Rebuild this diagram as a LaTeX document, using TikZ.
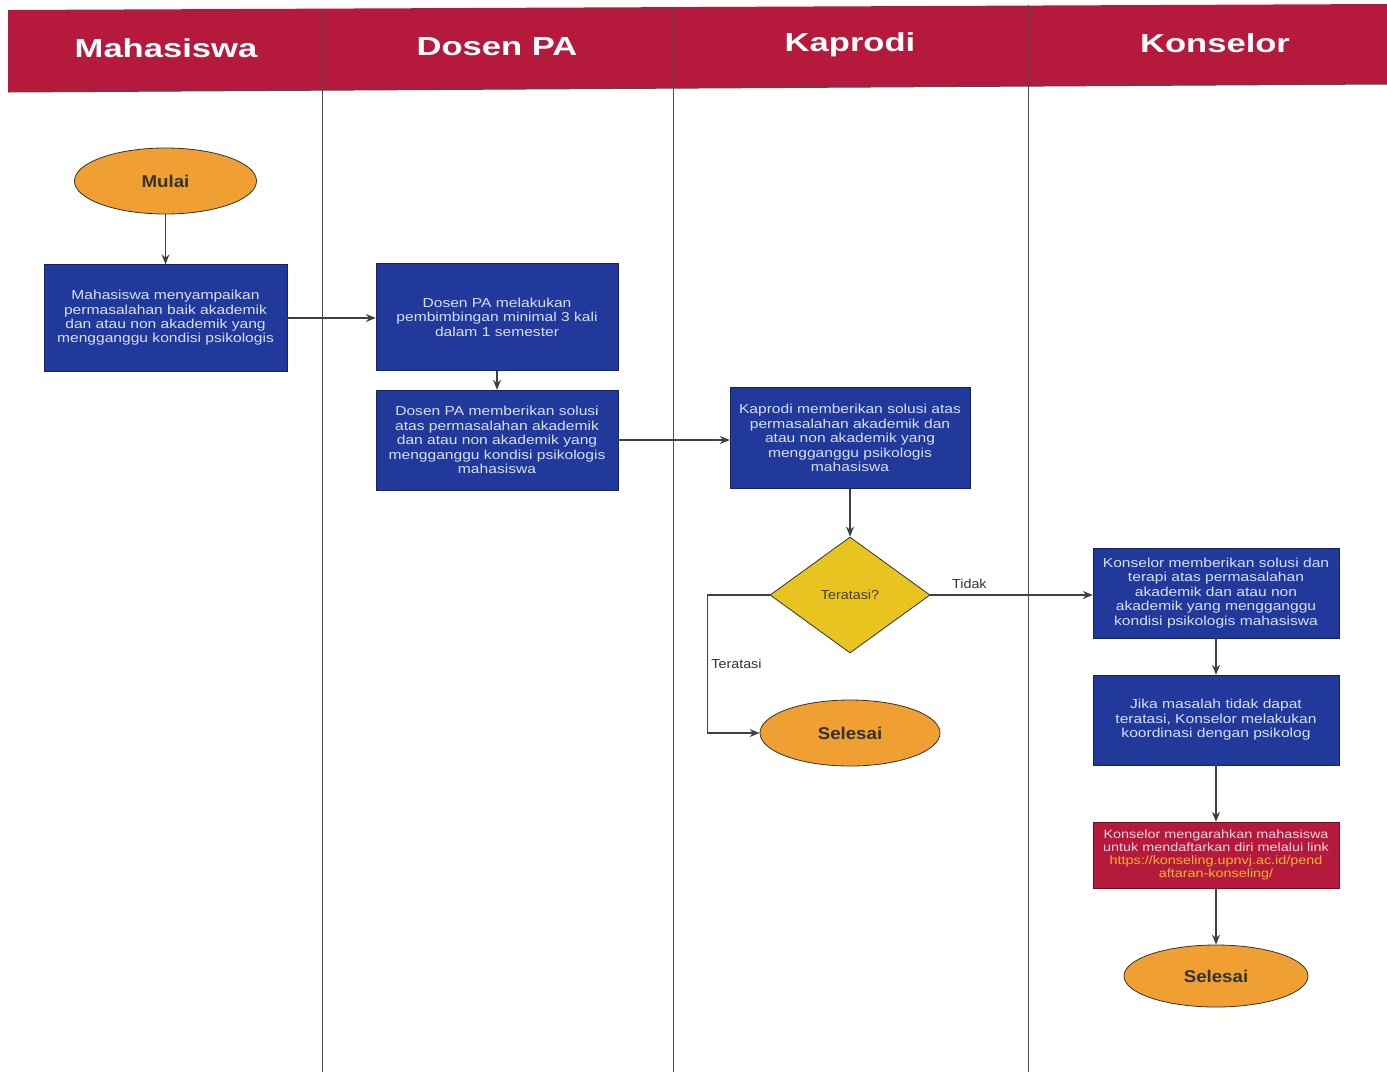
\documentclass[tikz,border=0pt]{standalone}
\usepackage{fontspec}
\setmainfont{Liberation Sans}
\newfontfamily\headfont[FakeStretch=1.33]{Liberation Sans}
\newfontfamily\boxfont[FakeStretch=1.2]{Liberation Sans}
\newfontfamily\lblfont[FakeStretch=1.1]{Liberation Sans}
\usetikzlibrary{shapes.geometric,arrows.meta}

\newlength{\du}
\setlength{\du}{1pt}

\definecolor{lanered}{RGB}{181,26,60}
\definecolor{boxblue}{RGB}{33,57,155}
\definecolor{boxtext}{RGB}{214,224,246}
\definecolor{startorange}{RGB}{240,160,50}
\definecolor{decideyellow}{RGB}{232,196,32}
\definecolor{linkyellow}{RGB}{242,180,50}
\definecolor{redtext}{RGB}{246,214,220}

\tikzset{
  lanehead/.style={text=white, font=\headfont\bfseries\fontsize{26}{28}\selectfont},
  procbox/.style={draw=boxblue!60!black, fill=boxblue, text=boxtext, align=center,
    minimum width=242\du, inner sep=0pt, font=\boxfont\fontsize{13}{14.4}\selectfont},
  linkbox/.style={procbox, draw=lanered!60!black, fill=lanered, text=redtext,
    font=\boxfont\fontsize{12}{13}\selectfont},
  startend/.style={ellipse, draw=black!80, line width=0.8pt, fill=startorange, text=black!80, inner sep=0pt,
    font=\lblfont\bfseries\fontsize{17}{19}\selectfont},
  decide/.style={diamond, draw=black!80, line width=0.8pt, fill=decideyellow, text=black!70!olive, inner sep=0pt,
    minimum width=160\du, minimum height=116\du, font=\lblfont\fontsize{13}{15}\selectfont},
  flowarrow/.style={draw=black!75, line width=1.1pt, -{Stealth[length=10pt,width=8pt]}},
  edgelabel/.style={text=black!80, font=\lblfont\fontsize{13}{15}\selectfont}
}

\begin{document}
\begin{tikzpicture}
\pgftransformxscale{1.000000}
\pgftransformyscale{-1.000000}
\useasboundingbox (0\du,0\du) rectangle (1387\du,1072\du);

% lanes
\fill[lanered] (8\du,10\du)--(1387\du,4\du)--(1387\du,84\du)--(8\du,92\du)--cycle;
\draw[black!70, line width=1pt] (8\du,92\du)--(1387\du,84\du);
\draw[black!70, line width=0.8pt] (322\du,9\du)--(322\du,1072\du);
\draw[black!70, line width=0.8pt] (673\du,7\du)--(673\du,1072\du);
\draw[black!70, line width=0.8pt] (1028\du,5\du)--(1028\du,1072\du);
\node[lanehead] (hmhs) at (166\du,48\du){Mahasiswa};
\node[lanehead] (hdosen) at (497\du,47\du){Dosen PA};
\node[lanehead] (hkaprodi) at (850\du,45\du){Kaprodi};
\node[lanehead] (hkonselor) at (1215\du,43\du){Konselor};

% Mahasiswa
\node[startend, minimum width=182\du, minimum height=66\du] (mulai) at (165.5\du,181\du){Mulai};
\node[procbox, minimum width=243\du, minimum height=107\du] (lapor) at (165.5\du,318\du){Mahasiswa menyampaikan\\permasalahan baik akademik\\dan atau non akademik yang\\mengganggu kondisi psikologis};

% Dosen PA
\node[procbox, minimum height=107\du] (bimbing) at (497\du,317\du){Dosen PA melakukan\\pembimbingan minimal 3 kali\\dalam 1 semester};
\node[procbox, minimum height=100\du] (solusipa) at (497\du,440\du){Dosen PA memberikan solusi\\atas permasalahan akademik\\dan atau non akademik yang\\mengganggu kondisi psikologis\\mahasiswa};

% Kaprodi
\node[procbox, minimum width=240\du, minimum height=101\du] (solusikp) at (850\du,438\du){Kaprodi memberikan solusi atas\\permasalahan akademik dan\\atau non akademik yang\\mengganggu psikologis\\mahasiswa};
\node[decide] (cek) at (850\du,595\du){Teratasi?};
\node[startend, minimum width=180\du, minimum height=66\du] (selesaikp) at (850\du,733\du){Selesai};

% Konselor
\node[procbox, minimum width=246\du, minimum height=90\du] (terapi) at (1216\du,593\du){Konselor memberikan solusi dan\\terapi atas permasalahan\\akademik dan atau non\\akademik yang mengganggu\\kondisi psikologis mahasiswa};
\node[procbox, minimum width=246\du, minimum height=90\du] (psikolog) at (1216\du,720\du){Jika masalah tidak dapat\\teratasi, Konselor melakukan\\koordinasi dengan psikolog};
\node[linkbox, minimum width=246\du, minimum height=66\du] (daftar) at (1216\du,855\du){Konselor mengarahkan mahasiswa\\untuk mendaftarkan diri melalui link\\{\color{linkyellow}https://konseling.upnvj.ac.id/pend}\\{\color{linkyellow}aftaran-konseling/}};
\node[startend, minimum width=184\du, minimum height=62\du] (selesaiks) at (1216\du,976\du){Selesai};

% connectors
\draw[flowarrow] (mulai) -- (lapor);
\draw[flowarrow] (lapor.east) -- (lapor.east -| bimbing.west);
\draw[flowarrow] (bimbing) -- (solusipa);
\draw[flowarrow] (solusipa.east) -- (solusipa.east -| solusikp.west);
\draw[flowarrow] (solusikp) -- (cek);
\draw[flowarrow] (cek.east) -- (cek.east -| terapi.west) node[edgelabel, pos=0.24, above, inner sep=6pt]{Tidak};
\draw[flowarrow] (cek.west) -- ++(-62\du,0\du) |- (selesaikp.west) node[edgelabel, pos=0.25, right]{Teratasi};
\draw[flowarrow] (terapi) -- (psikolog);
\draw[flowarrow] (psikolog) -- (daftar);
\draw[flowarrow] (daftar) -- (selesaiks);
\end{tikzpicture}
\end{document}
